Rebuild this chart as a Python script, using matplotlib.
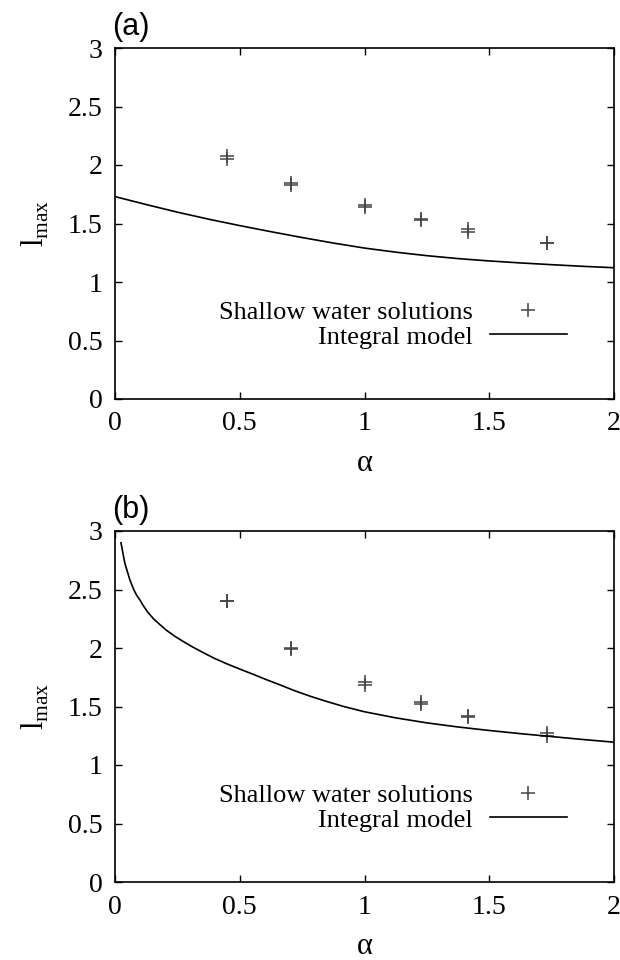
import matplotlib
matplotlib.use('Agg')
from matplotlib import pyplot as plt

# shallow water solutions (two runs per alpha, nearly overlapping)
alpha_sw = [0.447, 0.707, 1.0, 1.225, 1.414, 1.732]
sw_a1 = [2.05, 1.83, 1.64, 1.53, 1.43, 1.33]
sw_a2 = [2.08, 1.85, 1.66, 1.54, 1.45, 1.33]
sw_b1 = [2.40, 1.99, 1.68, 1.52, 1.41, 1.25]
sw_b2 = [2.40, 2.00, 1.71, 1.54, 1.42, 1.27]

# integral model curves
alpha_im_a = [0.0, 0.125, 0.25, 0.375, 0.5, 0.625, 0.75, 0.875, 1.0,
              1.125, 1.25, 1.375, 1.5, 1.625, 1.75, 1.875, 2.0]
im_a = [1.73, 1.662, 1.597, 1.537, 1.482, 1.43, 1.38, 1.333, 1.29,
        1.255, 1.225, 1.2, 1.18, 1.163, 1.148, 1.134, 1.122]
alpha_im_b = [0.024, 0.03, 0.04, 0.05, 0.06, 0.075, 0.087, 0.1, 0.114, 0.13,
              0.154, 0.18, 0.207, 0.24, 0.274, 0.31, 0.354, 0.4, 0.448, 0.5,
              0.554, 0.6, 0.661, 0.72, 0.782, 0.85, 0.92, 1.0, 1.125, 1.25,
              1.375, 1.5, 1.625, 1.75, 1.875, 2.0]
im_b = [2.90, 2.83, 2.72, 2.65, 2.58, 2.50, 2.45, 2.41, 2.36, 2.31,
        2.25, 2.20, 2.15, 2.10, 2.055, 2.01, 1.96, 1.91, 1.865, 1.82,
        1.775, 1.735, 1.685, 1.635, 1.588, 1.542, 1.498, 1.455, 1.403, 1.36,
        1.325, 1.295, 1.268, 1.243, 1.218, 1.195]

xticks = [0, 0.5, 1, 1.5, 2]
xtick_labels = ['0', '0.5', '1', '1.5', '2']
yticks = [0, 0.5, 1, 1.5, 2, 2.5, 3]
ytick_labels = ['0', '0.5', '1', '1.5', '2', '2.5', '3']

plt.rcParams['font.family'] = ['Liberation Serif', 'DejaVu Serif']
plt.rcParams['mathtext.fontset'] = 'custom'
plt.rcParams['mathtext.rm'] = 'Liberation Serif'

fig = plt.figure(figsize=(6.2, 9.6), dpi=100)
left, width = 115 / 620, 499 / 620
ax_a = fig.add_axes([left, 1 - 399 / 960, width, 351 / 960])
ax_b = fig.add_axes([left, 1 - 882 / 960, width, 351 / 960])

panels = [
    (ax_a, sw_a1, sw_a2, alpha_im_a, im_a, '(a)', 48),
    (ax_b, sw_b1, sw_b2, alpha_im_b, im_b, '(b)', 531),
]
for ax, s1, s2, xa, ya, tag, top in panels:
    ax.plot(alpha_sw, s1, '+', color='#444444', ms=10, mew=1.1,
            label='Shallow water solutions')
    ax.plot(alpha_sw, s2, '+', color='#444444', ms=10, mew=1.1)
    ax.plot(xa, ya, '-', color='black', lw=1.2, label='Integral model')
    ax.set_xlim(0, 2)
    ax.set_ylim(0, 3)
    ax.set_xticks(xticks)
    ax.set_xticklabels(xtick_labels)
    ax.set_yticks(yticks)
    ax.set_yticklabels(ytick_labels)
    ax.tick_params(direction='in', length=5, width=1, top=True, right=True,
                   labelsize=20, pad=9)
    for sp in ax.spines.values():
        sp.set_linewidth(1.2)
    ax.set_xlabel('α', fontsize=22, labelpad=9)
    ax.set_ylabel(r'l$_{\mathrm{max}}$', fontsize=22, labelpad=12)
    ax.legend(loc='center right', bbox_to_anchor=(0.905, 0.212), frameon=False,
              markerfirst=False, fontsize=19, handlelength=2.9,
              handletextpad=0.65, labelspacing=0.05, borderpad=0,
              borderaxespad=0)
    fig.text(112 / 620, 1 - (top - 21) / 960, tag, fontsize=22,
             family=['Liberation Sans', 'DejaVu Sans'], ha='left', va='center')

plt.savefig('out.png', dpi=100)
